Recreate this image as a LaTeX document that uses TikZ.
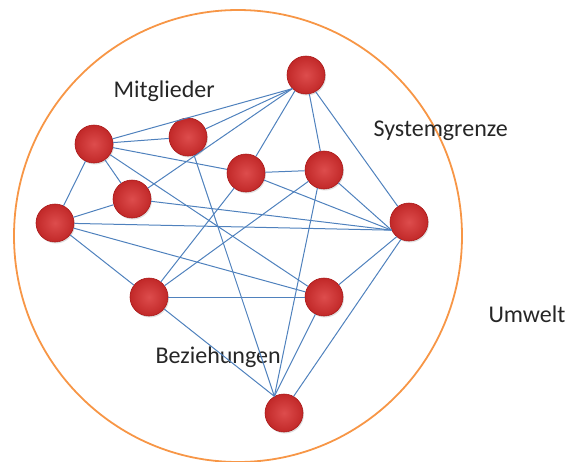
\documentclass[tikz,border=0pt]{standalone}
\usepackage{fontspec}
\setmainfont{Carlito}
\usepackage{tikz}
\usetikzlibrary{shadows}
\definecolor{linkblue}{RGB}{79,129,189}
\definecolor{bordorange}{RGB}{247,150,70}
\definecolor{ballred}{RGB}{215,45,45}
\definecolor{ballrim}{RGB}{170,25,25}

\begin{document}
\begin{tikzpicture}[x=1pt, y=-1pt, every node/.style={font=\fontsize{24}{28}\selectfont,text=black!85},
  member/.style={circle,inner sep=0pt,minimum size=38pt,draw=ballrim,line width=0.6pt,
    shading=radial,inner color=ballred!85!white,outer color=ballred!90!black,
    drop shadow={opacity=0.25,shadow xshift=1pt,shadow yshift=-1.5pt}},
  link/.style={draw=linkblue,line width=1pt}]
\useasboundingbox (0,0) rectangle (565,461);
\draw[bordorange,line width=1.8pt] (238,236) ellipse [x radius=224pt, y radius=226pt];
\node[member] (A) at (306,75) {};
\node[member] (B) at (94,144) {};
\node[member] (C) at (188,137) {};
\node[member] (D) at (246,173) {};
\node[member] (E) at (324,170) {};
\node[member] (F) at (132,199) {};
\node[member] (G) at (55,223) {};
\node[member] (H) at (409,222) {};
\node[member] (I) at (149,297) {};
\node[member] (J) at (324,297) {};
\node[member] (K) at (284,413) {};
\node[anchor=base west] (mitglieder) at (110,97) {Mitglieder};
\node[anchor=base west] (grenze) at (370,136) {Systemgrenze};
\node[anchor=base west] (umwelt) at (485,322) {Umwelt};
\node[anchor=base west] (bez) at (152,363) {Beziehungen};
% relations between the members
\draw[link] (A.225)--(B);
\draw[link] (A.225)--(C);
\draw[link] (A.225)--(F);
\draw[link] (A.235)--(D);
\draw[link] (A.280)--(E);
\draw[link] (A.300)--(H);
\draw[link] (B)--(C);
\draw[link] (B)--(D);
\draw[link] (B)--(F);
\draw[link] (B)--(G);
\draw[link] (B)--(J);
\draw[link] (C)--(K.120);
\draw[link] (D)--(E);
\draw[link] (D)--(I);
\draw[link] (D)--(H.205);
\draw[link] (E)--(H.205);
\draw[link] (E)--(I);
\draw[link] (E.250)--(K.120);
\draw[link] (F)--(G);
\draw[link] (F)--(H.205);
\draw[link] (G)--(H.205);
\draw[link] (G)--(I);
\draw[link] (G)--(J);
\draw[link] (I)--(J);
\draw[link] (I)--(K.120);
\draw[link] (J)--(H.230);
\draw[link] (J)--(K.120);
\draw[link] (H.245)--(K.60);
\end{tikzpicture}
\end{document}
